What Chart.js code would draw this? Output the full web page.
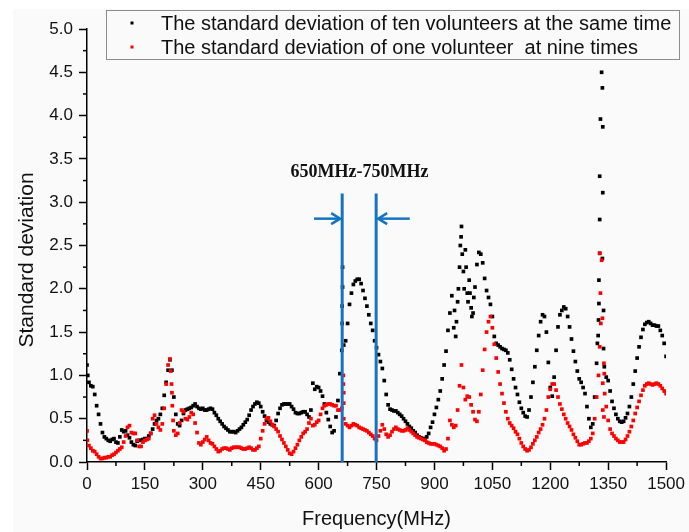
<!DOCTYPE html>
<html>
<head>
<meta charset="utf-8">
<script src="https://cdn.jsdelivr.net/npm/chart.js@4.4.1/dist/chart.umd.min.js"></script>
<style>
  html, body { margin: 0; padding: 0; background: #fafafa; }
  #wrap { width: 689px; height: 532px; position: relative; }
</style>
</head>
<body>
<div id="wrap"><canvas id="chart" width="689" height="532"></canvas></div>
<script>
/* valores, un punto cada 5 MHz (0..1500) */
const blackValues = [
  1.12, 0.92, 0.88, 0.87, 0.78, 0.65, 0.55, 0.44, 0.34, 0.29,
  0.27, 0.25, 0.24, 0.26, 0.27, 0.23, 0.22, 0.29, 0.37, 0.35,
  0.36, 0.31, 0.28, 0.23, 0.20, 0.19, 0.24, 0.25, 0.25, 0.26,
  0.27, 0.27, 0.30, 0.33, 0.38, 0.44, 0.48, 0.50, 0.55, 0.62,
  0.77, 0.92, 1.06, 1.18, 1.06, 0.75, 0.55, 0.44, 0.42, 0.48,
  0.56, 0.60, 0.61, 0.62, 0.63, 0.65, 0.67, 0.64, 0.62, 0.61,
  0.62, 0.60, 0.60, 0.61, 0.62, 0.61, 0.57, 0.54, 0.50, 0.47,
  0.44, 0.41, 0.39, 0.37, 0.35, 0.35, 0.35, 0.34, 0.36, 0.38,
  0.40, 0.43, 0.46, 0.49, 0.54, 0.60, 0.64, 0.67, 0.69, 0.68,
  0.64, 0.58, 0.53, 0.48, 0.46, 0.44, 0.43, 0.42, 0.48, 0.56,
  0.62, 0.66, 0.67, 0.67, 0.67, 0.67, 0.64, 0.61, 0.57, 0.56,
  0.56, 0.57, 0.58, 0.58, 0.55, 0.52, 0.60, 0.91, 0.84, 0.87,
  0.86, 0.82, 0.76, 0.67, 0.57, 0.49, 0.41, 0.34, 0.36, 0.52,
  0.71, 1.02, 1.29, 1.35, 1.40, 1.60, 1.82, 1.95, 2.05, 2.09,
  2.11, 2.11, 2.06, 1.98, 1.89, 1.80, 1.70, 1.60, 1.52, 1.40,
  1.32, 1.24, 1.16, 1.08, 0.94, 0.78, 0.66, 0.61, 0.60, 0.59,
  0.59, 0.57, 0.55, 0.53, 0.50, 0.47, 0.44, 0.41, 0.39, 0.36,
  0.34, 0.31, 0.29, 0.28, 0.27, 0.27, 0.29, 0.33, 0.40, 0.46,
  0.55, 0.63, 0.72, 0.82, 0.96, 1.12, 1.28, 1.52, 1.72, 1.92,
  1.55, 1.45, 1.85, 2.25, 2.72, 2.20, 2.45, 1.95, 2.10, 1.78,
  1.72, 2.02, 2.28, 2.42, 2.40, 2.30, 2.12, 1.98, 1.90, 1.82,
  1.68, 1.45, 1.37, 1.35, 1.33, 1.31, 1.30, 1.29, 1.26, 1.18,
  1.07, 0.96, 0.86, 0.78, 0.69, 0.62, 0.57, 0.53, 0.52, 0.60,
  0.75, 0.92, 1.10, 1.29, 1.46, 1.62, 1.70, 1.68, 1.50, 1.15,
  0.86, 0.76, 0.98, 1.29, 1.56, 1.70, 1.75, 1.79, 1.77, 1.68,
  1.56, 1.42, 1.28, 1.16, 1.05, 0.96, 0.92, 0.86, 0.79, 0.64,
  0.50, 0.40, 0.44, 0.75, 1.14, 1.64, 3.96, 4.32, 1.10, 0.98,
  0.94, 0.82, 0.70, 0.62, 0.55, 0.50, 0.47, 0.46, 0.47, 0.51,
  0.56, 0.64, 0.75, 0.90, 1.05, 1.20, 1.33, 1.44, 1.53, 1.59,
  1.61, 1.62, 1.60, 1.58, 1.58, 1.57, 1.57, 1.52, 1.46, 1.37,
  1.22
];

const redValues = [
  0.36, 0.19, 0.16, 0.13, 0.12, 0.09, 0.06, 0.04, 0.04, 0.05,
  0.05, 0.06, 0.06, 0.08, 0.09, 0.11, 0.13, 0.15, 0.17, 0.23,
  0.30, 0.40, 0.42, 0.34, 0.33, 0.33, 0.25, 0.18, 0.18, 0.23,
  0.25, 0.26, 0.27, 0.33, 0.50, 0.54, 0.44, 0.40, 0.37, 0.44,
  0.62, 0.90, 1.12, 1.19, 0.80, 0.36, 0.31, 0.33, 0.45, 0.60,
  0.58, 0.50, 0.49, 0.52, 0.57, 0.55, 0.45, 0.34, 0.22, 0.20,
  0.23, 0.26, 0.29, 0.25, 0.22, 0.21, 0.18, 0.15, 0.12, 0.13,
  0.15, 0.16, 0.16, 0.15, 0.14, 0.16, 0.17, 0.17, 0.17, 0.17,
  0.16, 0.15, 0.15, 0.16, 0.17, 0.16, 0.14, 0.14, 0.16, 0.18,
  0.27, 0.36, 0.44, 0.50, 0.51, 0.47, 0.43, 0.41, 0.38, 0.35,
  0.30, 0.26, 0.22, 0.18, 0.14, 0.10, 0.09, 0.12, 0.16, 0.20,
  0.25, 0.29, 0.33, 0.35, 0.38, 0.45, 0.50, 0.42, 0.43, 0.46,
  0.48, 0.55, 0.62, 0.65, 0.66, 0.67, 0.67, 0.66, 0.65, 0.65,
  0.60, 0.60, 0.62, 0.50, 0.44, 0.42, 0.40, 0.42, 0.44, 0.43,
  0.42, 0.40, 0.39, 0.38, 0.37, 0.36, 0.34, 0.32, 0.30, 0.27,
  0.25, 0.30, 0.36, 0.43, 0.38, 0.32, 0.29, 0.31, 0.35, 0.38,
  0.40, 0.38, 0.37, 0.36, 0.36, 0.37, 0.39, 0.37, 0.35, 0.33,
  0.31, 0.29, 0.28, 0.27, 0.26, 0.25, 0.23, 0.22, 0.21, 0.21,
  0.21, 0.20, 0.19, 0.18, 0.16, 0.13, 0.15, 0.27, 0.48, 0.43,
  0.40, 0.42, 0.60, 0.88, 1.12, 0.86, 0.72, 0.76, 0.75, 0.66,
  0.58, 0.49, 0.47, 0.58, 0.78, 1.06, 1.30, 1.50, 1.62, 1.68,
  1.55, 1.36, 1.20, 1.04, 0.90, 0.79, 0.68, 0.58, 0.50, 0.45,
  0.42, 0.39, 0.35, 0.32, 0.27, 0.22, 0.18, 0.15, 0.13, 0.14,
  0.17, 0.21, 0.25, 0.29, 0.34, 0.38, 0.43, 0.50, 0.60, 0.75,
  0.84, 0.90, 0.90, 0.83, 0.75, 0.67, 0.61, 0.55, 0.50, 0.45,
  0.41, 0.37, 0.32, 0.28, 0.24, 0.20, 0.20, 0.21, 0.22, 0.22,
  0.24, 0.27, 0.33, 0.50, 0.75, 1.00, 1.95, 1.66, 1.02, 0.64,
  0.48, 0.38, 0.33, 0.30, 0.27, 0.25, 0.23, 0.23, 0.23, 0.26,
  0.30, 0.35, 0.41, 0.48, 0.56, 0.63, 0.70, 0.77, 0.83, 0.88,
  0.90, 0.91, 0.90, 0.89, 0.90, 0.91, 0.90, 0.88, 0.85, 0.82,
  0.79
];

// puntos sueltos en los picos empinados
const blackExtraFreq  = [2, 662, 662, 661, 661, 952, 957, 962, 967, 969, 972, 977, 982, 987, 992, 997, 1002, 1322, 1324, 1326, 1326, 1328, 1328, 1328, 1333, 1336, 1336, 1335, 1338, 1338];
const blackExtraValue = [1.0, 2.25, 2.02, 1.80, 1.60, 1.75, 1.62, 2.00, 2.50, 2.60, 2.40, 2.00, 2.25, 1.85, 1.95, 1.68, 1.90, 1.37, 1.46, 2.10, 1.83, 2.80, 3.30, 2.41, 4.50, 3.87, 3.11, 2.35, 1.75, 1.31];
const redExtraFreq  = [1, 217, 219, 221, 223, 664, 664, 665, 665, 1328, 1333, 1331, 1328, 1339, 1336, 1341, 1336, 1339];
const redExtraValue = [0.25, 1.05, 0.90, 0.65, 0.48, 1.00, 0.90, 0.80, 0.68, 2.41, 2.33, 1.60, 1.33, 1.14, 0.91, 0.79, 0.60, 0.52];

const freqStep = 5;
const freq = blackValues.map((v, i) => i * freqStep);

// banda 650MHz-750MHz
const bandLines = [661, 749];
const bandTop = 3.1;
const arrowLevel = 2.81;
const arrowTails = [588, 836];

const seriesLabels = [
  'The standard deviation of ten volunteers at the same time',
  'The standard deviation of one volunteer  at nine times'
];
const seriesColors = ['#000000', '#ff0000'];

function toPoints(xs, ys) {
  return xs.map((x, i) => ({ x: x, y: ys[i] }));
}

const blackPoints = toPoints(freq, blackValues).concat(toPoints(blackExtraFreq, blackExtraValue)).sort((a, b) => a.x - b.x);
const redPoints = toPoints(freq, redValues).concat(toPoints(redExtraFreq, redExtraValue)).sort((a, b) => a.x - b.x);

const BLUE = '#1673c4';
const SANS = '"Liberation Sans", Arial, sans-serif';

/* fondo */
const bgPlugin = {
  id: 'bg',
  beforeDraw(chart) {
    const c = chart.ctx;
    c.save();
    c.fillStyle = '#fafafa';
    c.fillRect(0, 0, chart.width, chart.height);
    c.fillStyle = '#ffffff';
    c.fillRect(0, 0, chart.width, 9);
    c.fillRect(0, 0, 13, chart.height);
    c.restore();
  }
};

/* ticks menores, flechas, textos y leyenda */
const decoPlugin = {
  id: 'deco',
  afterDraw(chart) {
    const c = chart.ctx;
    const xs = chart.scales.x, ys = chart.scales.y;
    const area = chart.chartArea;
    c.save();

    // ticks menores
    c.strokeStyle = '#000';
    c.lineWidth = 1.5;
    for (let f = 75; f < 1500; f += 150) {
      const px = xs.getPixelForValue(f);
      c.beginPath(); c.moveTo(px, area.bottom); c.lineTo(px, area.bottom + 4); c.stroke();
    }
    for (let v = 0.25; v < 5; v += 0.5) {
      const py = ys.getPixelForValue(v);
      c.beginPath(); c.moveTo(area.left, py); c.lineTo(area.left - 4, py); c.stroke();
    }

    // flechas
    c.strokeStyle = BLUE;
    c.lineWidth = 2.5;
    const ay = ys.getPixelForValue(arrowLevel);
    bandLines.forEach((f, i) => {
      const tip = xs.getPixelForValue(f) + (i === 0 ? -2 : 2);
      const tail = xs.getPixelForValue(arrowTails[i]);
      const dir = tip > tail ? -1 : 1;
      c.beginPath(); c.moveTo(tail, ay); c.lineTo(tip, ay); c.stroke();
      c.beginPath();
      c.moveTo(tip + dir * 9, ay - 5.5);
      c.lineTo(tip, ay);
      c.lineTo(tip + dir * 9, ay + 5.5);
      c.stroke();
    });

    // texto de la banda
    c.fillStyle = '#111';
    c.font = 'bold 18px "Liberation Serif", "Times New Roman", serif';
    c.textAlign = 'center';
    c.textBaseline = 'alphabetic';
    c.fillText('650MHz-750MHz', 359.5, 177);

    // titulos de ejes
    c.font = '20px ' + SANS;
    c.fillText('Frequency(MHz)', (area.left + area.right) / 2, 525);
    c.save();
    c.translate(33, 260);
    c.rotate(-Math.PI / 2);
    c.font = '21px ' + SANS;
    c.fillText('Standard deviation', 0, 0);
    c.restore();

    // leyenda
    c.fillStyle = '#fafafa';
    c.fillRect(106.5, 10.5, 573, 49);
    c.strokeStyle = '#8c8c8c';
    c.lineWidth = 1;
    c.strokeRect(106.5, 10.5, 573, 49);
    c.font = '20px ' + SANS;
    c.textAlign = 'left';
    seriesLabels.forEach((lab, i) => {
      const cy = 23 + i * 24;
      c.fillStyle = seriesColors[i];
      c.fillRect(130.5, cy - 1.5, 3, 3);
      c.fillStyle = '#111';
      c.fillText(lab, 161, cy + 6.5);
    });

    c.restore();
  }
};

const ctx = document.getElementById('chart').getContext('2d');
new Chart(ctx, {
  type: 'scatter',
  data: {
    datasets: [
      {
        label: seriesLabels[0],
        data: blackPoints,
        backgroundColor: seriesColors[0],
        pointStyle: 'rect',
        pointRadius: 2.6,
        borderWidth: 0,
        order: 2
      },
      {
        label: seriesLabels[1],
        data: redPoints,
        backgroundColor: seriesColors[1],
        pointStyle: 'rect',
        pointRadius: 2.6,
        borderWidth: 0,
        order: 1
      },
      {
        type: 'line',
        label: 'band-left',
        data: [{ x: bandLines[0], y: 0 }, { x: bandLines[0], y: bandTop }],
        borderColor: BLUE,
        borderWidth: 3,
        pointRadius: 0,
        order: 0
      },
      {
        type: 'line',
        label: 'band-right',
        data: [{ x: bandLines[1], y: 0 }, { x: bandLines[1], y: bandTop }],
        borderColor: BLUE,
        borderWidth: 3,
        pointRadius: 0,
        order: 0
      }
    ]
  },
  options: {
    responsive: false,
    animation: false,
    layout: { padding: { top: 29, right: 19, left: 0, bottom: 0 } },
    plugins: {
      legend: { display: false },
      tooltip: { enabled: false }
    },
    scales: {
      x: {
        type: 'linear',
        min: 0,
        max: 1500,
        afterFit: s => { s.height = 70; },
        grid: { drawOnChartArea: false, tickLength: 8, tickColor: '#000', tickWidth: 1.5 },
        border: { color: '#000', width: 1.5 },
        ticks: {
          stepSize: 150,
          color: '#111',
          padding: 4,
          maxRotation: 0,
          font: { family: SANS, size: 17 },
          callback: v => String(v)
        }
      },
      y: {
        min: 0,
        max: 5,
        afterFit: s => { s.width = 87; },
        grid: { drawOnChartArea: false, tickLength: 8, tickColor: '#000', tickWidth: 1.5 },
        border: { color: '#000', width: 1.5 },
        ticks: {
          stepSize: 0.5,
          color: '#111',
          padding: 6,
          font: { family: SANS, size: 17 },
          callback: v => v.toFixed(1)
        }
      }
    }
  },
  plugins: [bgPlugin, decoPlugin]
});
</script>
</body>
</html>
